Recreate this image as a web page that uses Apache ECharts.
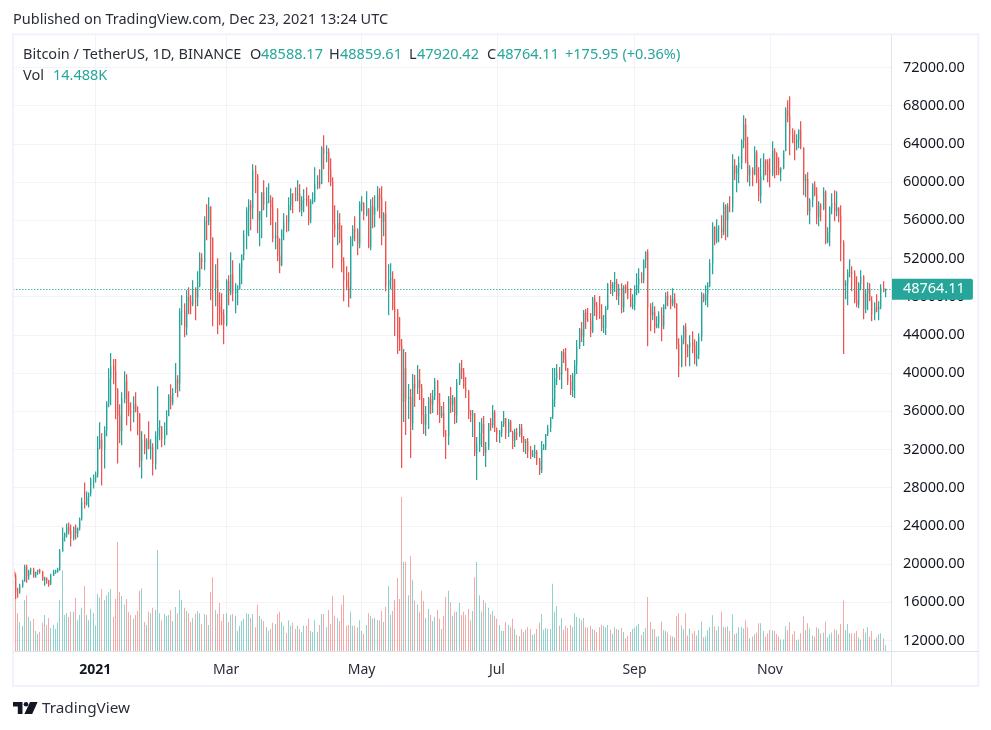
<!DOCTYPE html>
<html><head><meta charset="utf-8">
<style>html,body{margin:0;padding:0;background:#fff}#c{width:991px;height:730px}</style>
<script src="https://cdn.jsdelivr.net/npm/echarts@6/dist/echarts.min.js"></script>
</head><body><div id="c"></div>
<script>
const startDate = '2020-11-25';
const firstOpen = 19200;
const highs = [
19510,18985,17515,17935,18355,19930,19930,19405,19615,19615,
19195,19405,19510,19300,18670,18565,18355,18985,19405,19405,
19615,21575,23815,23290,24235,24340,24130,23920,24130,23815,
24865,26965,28540,27595,27490,29065,29380,29695,33370,34840,
33685,34420,37045,40510,42085,41455,41455,38410,36730,37990,
40195,39880,38095,36940,37570,37990,36520,35680,33895,33580,
33160,34945,33055,32635,33895,38620,35050,34420,34840,36100,
37780,38830,38410,41035,39775,46780,48140,47300,48660,48980,
48140,49710,48980,50650,52640,52540,56410,57670,58400,57460,
54210,51390,52010,48450,48350,46670,49810,50230,52640,51800,
49400,49190,51490,52430,54950,57350,58190,58090,61860,61750,
60600,56930,58920,60180,59450,59870,58610,58400,55780,57250,
54110,55050,56730,56520,58400,59340,58820,59450,60180,59760,
58500,59240,59450,58610,58190,58920,61540,60700,61330,63740,
64890,63840,63530,62480,60490,57560,57040,56730,55470,52120,
51180,50550,54320,55470,56410,55150,57980,58500,57880,59030,
57250,58190,58400,58610,59550,59340,59550,56830,57980,51390,
51490,50650,49850,46710,45870,43570,42520,42210,38860,38330,
39900,39800,40850,40430,38860,37390,36550,37490,37910,38230,
39480,39270,37910,36550,36970,34040,37600,38540,37700,37490,
39380,41050,41370,40530,39590,38230,36130,36130,35820,33310,
34880,35300,35510,32780,34770,35300,36660,36130,34040,34040,
34980,36030,35300,35190,35090,33940,34150,34250,34670,34670,
33410,33100,33200,32360,31950,32470,31950,31110,32880,32570,
33620,34570,35400,40530,40530,40950,40640,42310,42520,42620,
40530,39800,40010,41370,43460,44720,45350,46600,46710,46810,
46290,47970,48180,47440,48070,47200,46080,47020,49430,49750,
49540,50580,49850,49330,49400,49190,49290,49610,48870,48240,
49190,50440,50970,50550,51910,52750,52960,47300,47410,46990,
45940,46460,46880,47200,48450,48560,48140,48870,48350,47300,
43640,43950,45000,45210,43010,43950,44370,43530,43320,44160,
48450,48350,49190,49500,51910,55780,55360,56100,55470,56520,
57880,57670,57770,58500,62900,62380,61750,62690,64470,66990,
66680,64750,61750,61540,63740,63320,61540,62480,63010,62380,
62380,62480,64260,63530,63110,62590,61540,63320,67820,68560,
68970,65620,65410,65000,65520,66360,63640,60810,61020,58290,
59870,60080,59450,57980,57770,59450,59130,55260,57460,58820,
59130,59030,57350,57560,53900,49710,50860,51910,51180,50760,
50130,49500,50760,50230,48770,49500,49400,48030,47410,48240,
47510,49290,49610,48859.61];
const lows = [
18565,16325,16465,16885,17515,18145,18040,18355,18880,18565,
18565,18880,18985,18250,17725,17935,17620,17935,18775,18985,
19090,19300,21295,22345,22765,23080,21820,22450,22555,22765,
23500,24550,25810,26125,25915,27385,27910,28540,29065,32005,
28225,30010,33370,36415,36625,38830,35155,30535,32635,32425,
36835,34525,35470,33895,34840,35890,33475,30115,28960,31480,
30955,32005,30955,29275,29905,32005,32950,32215,32425,33475,
35470,36205,36625,38305,37465,38095,45000,43740,43950,46150,
46150,47000,45520,47000,48980,50860,50760,53900,55470,47620,
44900,46990,44060,45000,45000,43010,44900,47090,48140,47510,
46250,47090,48770,49290,51800,52960,54320,54950,56100,58820,
54630,53270,54110,57040,56310,57770,55470,53690,52960,51700,
50440,51180,53900,54740,54840,57040,56730,57980,57980,56830,
56410,56830,57460,55470,55680,57670,57880,59240,59310,59760,
61330,62060,59970,59550,50970,54210,53370,53580,50550,47510,
48660,46880,48770,53270,53790,52330,53060,56930,56000,56410,
53060,52850,55150,55260,56930,56200,53370,54320,48560,46040,
48770,46570,43880,42000,42310,30060,34880,33520,35190,31110,
34040,36450,37810,37180,34670,33620,33410,34140,35710,35820,
37180,35610,34770,35300,33310,31000,32470,35820,35920,34670,
34770,38750,39380,38540,37390,35190,34880,33310,31320,28800,
31740,32260,31320,30170,31950,33940,34250,33830,32780,32680,
33310,34350,33100,33310,33830,32050,32260,32990,33310,32680,
31740,31530,31110,31000,31210,31110,30370,29330,29540,31950,
31950,33410,33830,35190,36450,38750,39270,38330,41050,40220,
38750,37700,37490,37390,39900,42520,43250,42830,44610,45350,
43780,44200,45980,45560,45660,44370,44200,43990,46600,48280,
48070,48490,47650,47130,46250,46360,48350,47720,46880,46670,
46570,48140,48350,49400,49400,50970,42800,44370,45520,44160,
44680,44680,43320,44580,46670,46990,46670,46990,46780,42490,
39550,40600,43010,40710,41650,40710,42070,40920,40710,41440,
43320,47410,47090,46880,48980,50340,53370,53580,53690,54110,
54420,53900,54210,56830,56830,60180,58920,59870,61330,63530,
61960,59970,59550,59550,60700,59870,57980,57770,60180,60700,
59970,59450,60600,60390,60700,60700,60080,61330,63220,66250,
62800,64050,62270,63320,63530,63430,58610,58400,56520,55570,
57350,58500,55570,55360,55890,57040,53480,53580,53270,56620,
55890,56410,55780,51700,42000,47720,47090,50020,48560,47300,
46880,46780,48660,45630,46250,46570,47510,45420,45520,46360,
45520,46670,48450,47920.42];
const closes = [
18700,17150,17130,17700,18180,19700,18750,19220,19430,18680,
19150,19360,19170,18320,18550,18250,17800,18800,19170,19280,
19430,21340,22800,23230,23820,23450,22720,23820,23250,23720,
24700,26480,26280,27040,27070,28900,28990,29410,32180,33000,
32000,33970,36800,39430,40670,40240,38240,35540,33900,37300,
39100,36800,36000,35800,36760,36000,35800,30800,33000,32080,
32950,32080,32260,30500,33400,34300,34400,33100,33500,35500,
37650,36900,37900,39300,38900,46450,46500,44800,47950,47400,
47200,48650,47900,49100,52100,51600,55900,55800,57400,54100,
48900,49700,47000,46300,46150,45100,49600,48400,50350,48350,
48750,48770,50950,52350,54500,57000,57600,57300,61180,60850,
56000,56900,58900,57650,58000,58100,57350,54100,54340,52300,
51300,54900,55850,55780,57600,58780,58700,58650,58750,57050,
58100,58200,57950,56000,57950,58100,59770,59950,59850,63550,
62950,63150,61300,60000,55600,55000,55700,54000,51700,49700,
49000,47800,54050,55050,54850,53550,57700,57800,56600,57200,
53200,57500,56600,57300,58700,58300,55850,56650,49150,49700,
49900,46750,46450,43550,42900,37000,40500,37300,37500,34750,
38850,38400,39250,38500,35650,34600,35700,37300,36700,37550,
39200,36850,35500,35800,33600,33400,37400,36700,37300,35550,
39000,40500,40150,38350,38100,35800,35600,35700,31650,32500,
33700,34650,31650,32250,34700,34500,35900,34300,33550,33800,
34650,35300,33700,34900,33850,32880,33800,33500,34250,33100,
32700,32820,31780,31400,31520,31780,30840,29800,32140,32290,
33600,34280,35400,37300,39450,40020,39850,42200,41450,40500,
39100,38200,39700,40850,42800,44550,43800,46300,45600,45500,
44400,47800,47050,46000,45950,44700,44800,46750,49300,48900,
49300,49500,48050,48900,46850,49050,48750,47950,47000,47150,
48800,49250,49900,49800,51750,52650,46850,46050,46400,44850,
45150,46050,44950,47100,48100,47750,47250,47750,47250,43000,
40700,43550,44850,42800,42700,43150,42900,41550,41900,43800,
48150,47650,48200,49200,51500,55300,53800,55100,55200,54700,
57500,56000,57400,57350,61700,60900,61500,62000,64300,66000,
62200,60700,61300,60850,63100,60350,58500,60600,62200,61850,
61300,60900,63250,62950,61450,61000,61500,63250,67550,66950,
64950,64150,64100,64450,65450,63550,60100,60350,56900,58100,
59750,58700,56300,57550,57150,58950,53700,54700,57250,57800,
56950,57300,56500,53600,49150,49400,50550,50600,50450,47650,
47150,49350,50100,46700,48350,48850,47650,46150,46850,46700,
46900,48900,48588.17,48764.11];
// volume, thousands of BTC
const volumes = [
70,181,87,67,58,117,128,78,69,74,
46,40,44,65,83,60,76,53,60,51,
65,117,185,83,87,78,90,90,122,71,
83,99,149,83,71,97,87,58,131,122,
142,117,128,135,142,78,119,249,135,126,
106,119,90,83,74,83,92,138,144,67,
60,90,87,99,94,231,87,71,85,81,
83,94,69,101,87,140,117,99,92,87,
67,76,85,92,87,62,85,83,60,135,
169,94,85,110,69,85,87,67,83,85,
81,46,58,69,74,87,85,76,85,55,
106,81,74,69,55,46,51,65,62,85,
90,67,58,42,71,58,65,51,58,51,
44,58,58,74,46,44,71,44,60,85,
85,55,94,62,126,81,76,69,106,128,
58,60,90,58,58,55,71,46,40,60,
87,81,74,76,71,71,92,67,101,149,
83,92,117,167,119,352,204,204,128,217,
163,115,106,90,138,115,76,97,83,69,
78,94,74,51,81,124,138,112,81,90,
90,110,83,90,83,97,71,92,169,204,
128,90,117,110,99,85,92,81,74,60,
46,46,67,60,55,74,51,37,35,51,
44,49,55,51,37,40,51,65,85,49,
53,51,51,154,90,103,58,76,49,58,
53,60,55,87,78,76,71,76,55,55,
58,51,49,44,55,60,58,55,60,49,
40,55,51,49,53,44,30,35,44,51,
53,58,62,37,44,53,124,67,51,51,
33,35,68,48,46,43,36,34,32,80,
87,59,50,87,36,52,41,46,36,48,
68,32,34,48,55,82,57,48,57,91,
55,55,57,46,84,39,41,55,55,52,
71,55,30,34,39,43,64,64,46,34,
41,48,48,46,39,34,27,27,57,48,
66,39,46,25,27,41,80,48,64,52,
36,34,55,52,41,43,68,32,39,43,
50,48,39,62,116,48,62,41,41,41,
46,32,27,52,43,55,34,46,27,32,
39,41,30,14.488];
const priceTicks = { min: 12000, max: 72000, interval: 4000 };
const lastPrice = 48764.11;
const monthNames = ['', '', 'Mar', '', 'May', '', 'Jul', '', 'Sep', '', 'Nov', ''];
const UP = '#26a69a', DOWN = '#ef5350', UPV = 'rgba(38,166,154,.5)', DOWNV = 'rgba(239,83,80,.5)';
const FONT = '"Noto Sans", sans-serif', TXT = '#131722';

const categories = [];
const start = Date.parse(startDate + 'T00:00:00Z');
for (let i = 0; i < highs.length + 3; i++) categories.push(new Date(start + i * 864e5).toISOString().slice(0, 10));
const tickText = d => {
  const [y, m, day] = d.split('-').map(Number);
  if (day !== 1) return '';
  return m === 1 ? '{b|' + y + '}' : monthNames[m - 1];
};
const opens = closes.map((c, i) => i ? closes[i - 1] : firstOpen);
const candles = closes.map((c, i) => [i, opens[i], c, lows[i], highs[i]]);
const vols = volumes.map((v, i) => [i, v]);

const L = 13.2, R = 99.1, GRID = '#f2f3f8';
const txt = (x, y, text, fill, extra) => ({ type: 'text', x, y, z: 50, silent: true,
  style: Object.assign({ text, fill, font: '14.5px ' + FONT, textVerticalAlign: 'middle' }, extra || {}) });

const chart = echarts.init(document.getElementById('c'), null, { renderer: 'canvas' });
chart.setOption({
  animation: false, backgroundColor: '#fff', textStyle: { fontFamily: FONT },
  grid: [
    { left: L, right: R, top: 67.4, bottom: 730 - 640.4 },
    { left: L, right: R, top: 35, bottom: 730 - 651.3 }
  ],
  xAxis: [
    { gridIndex: 0, type: 'category', data: categories, boundaryGap: false, show: false },
    { gridIndex: 1, type: 'category', data: categories, boundaryGap: false,
      axisLine: { show: false }, axisTick: { show: false },
      splitLine: { show: true, interval: (i, v) => tickText(v) !== '', lineStyle: { color: GRID, width: 1 } },
      axisLabel: { interval: (i, v) => tickText(v) !== '', formatter: v => tickText(v), color: '#2a2e39',
        fontSize: 14, fontFamily: FONT, margin: 12, hideOverlap: false,
        rich: { b: { fontWeight: 'bold', fontSize: 14, color: TXT, fontFamily: FONT } } } }
  ],
  yAxis: [
    { gridIndex: 0, type: 'value', position: 'right', min: priceTicks.min, max: priceTicks.max, interval: priceTicks.interval,
      axisLine: { show: false }, axisTick: { show: false },
      splitLine: { lineStyle: { color: GRID, width: 1 } },
      axisLabel: { color: TXT, fontSize: 14.5, fontFamily: FONT, margin: 11, padding: [2, 0, 0, 0], formatter: v => v.toFixed(2), showMinLabel: true, showMaxLabel: true } },
    { gridIndex: 1, type: 'value', min: 0, max: 1405, show: false, splitLine: { show: false } }
  ],
  series: [
    { type: 'custom', name: 'Vol', xAxisIndex: 1, yAxisIndex: 1, data: vols, z: 2, silent: true, clip: true,
      encode: { x: 0, y: 1 },
      renderItem: (params, api) => {
        const i = api.value(0);
        const top = api.coord([i, api.value(1)]);
        const base = api.coord([i, 0]);
        const up = closes[i] >= opens[i];
        return { type: 'rect', shape: { x: Math.floor(top[0]), y: top[1], width: 1, height: base[1] - top[1] },
          style: { fill: up ? UPV : DOWNV } };
      } },
    { type: 'custom', name: 'BTCUSDT', xAxisIndex: 0, yAxisIndex: 0, data: candles, z: 3, silent: true, clip: true,
      encode: { x: 0, y: [1, 2, 3, 4] },
      renderItem: (params, api) => {
        const i = api.value(0);
        const o = api.coord([i, api.value(1)]);
        const c = api.coord([i, api.value(2)]);
        const lo = api.coord([i, api.value(3)]);
        const hi = api.coord([i, api.value(4)]);
        const fill = api.value(2) >= api.value(1) ? UP : DOWN;
        const x = Math.floor(hi[0]), w = 1.25;
        return { type: 'group', children: [
          { type: 'rect', shape: { x, y: hi[1], width: w, height: lo[1] - hi[1] }, style: { fill } },
          { type: 'rect', shape: { x, y: Math.min(o[1], c[1]), width: w, height: Math.abs(o[1] - c[1]) }, style: { fill } }
        ] };
      },
      markLine: { silent: true, symbol: 'none', animation: false, z: 6,
        data: [{ yAxis: lastPrice }],
        lineStyle: { color: UP, type: [1.2, 1.8], width: 1.2 },
        label: { show: true, position: 'end', distance: 0, formatter: () => lastPrice.toFixed(2), color: '#fff',
          backgroundColor: UP, fontSize: 14.5, fontFamily: FONT, padding: [5, 8, 1, 11], height: 15, lineHeight: 15,
          width: 62, borderRadius: [0, 2, 2, 0], align: 'left', verticalAlign: 'middle' } } }
  ],
  graphic: { elements: [
    { type: 'rect', z: 40, silent: true, shape: { x: 13, y: 34.3, width: 965.3, height: 651.7 }, style: { fill: 'none', stroke: '#f0f3fa', lineWidth: 2 } },
    { type: 'line', z: 41, silent: true, shape: { x1: 891.5, y1: 35, x2: 891.5, y2: 686 }, style: { stroke: '#e0e3eb', lineWidth: 1 } },
    { type: 'line', z: 41, silent: true, shape: { x1: 14, y1: 651.5, x2: 978, y2: 651.5 }, style: { stroke: '#e0e3eb', lineWidth: 1 } },
    txt(13, 20, 'Published on TradingView.com, Dec 23, 2021 13:24 UTC', '#2a2e39'),
    txt(23, 55, 'Bitcoin / TetherUS, 1D, BINANCE', '#2a2e39'),
    txt(250, 55, 'O', '#2a2e39'), txt(261, 55, '48588.17', UP),
    txt(329, 55, 'H', '#2a2e39'), txt(340, 55, '48859.61', UP),
    txt(409, 55, 'L', '#2a2e39'), txt(417, 55, '47920.42', UP),
    txt(487, 55, 'C', '#2a2e39'), txt(497, 55, '48764.11', UP),
    txt(565, 55, '+175.95 (+0.36%)', UP),
    txt(23, 76, 'Vol', '#2a2e39'), txt(53, 76, '14.488K', UP),
    { type: 'polygon', z: 50, silent: true, shape: { points: [[13, 702], [22.5, 702], [22.5, 714], [17.8, 714], [17.8, 706.6], [13, 706.6]] }, style: { fill: TXT } },
    { type: 'polygon', z: 50, silent: true, shape: { points: [[30, 702], [37.6, 702], [32.2, 714], [24.4, 714]] }, style: { fill: TXT } },
    { type: 'circle', z: 50, silent: true, shape: { cx: 26, cy: 704.3, r: 2.3 }, style: { fill: TXT } },
    txt(42, 708.5, 'TradingView', '#2a2e39', { font: '15.3px ' + FONT })
  ] }
});
</script></body></html>
